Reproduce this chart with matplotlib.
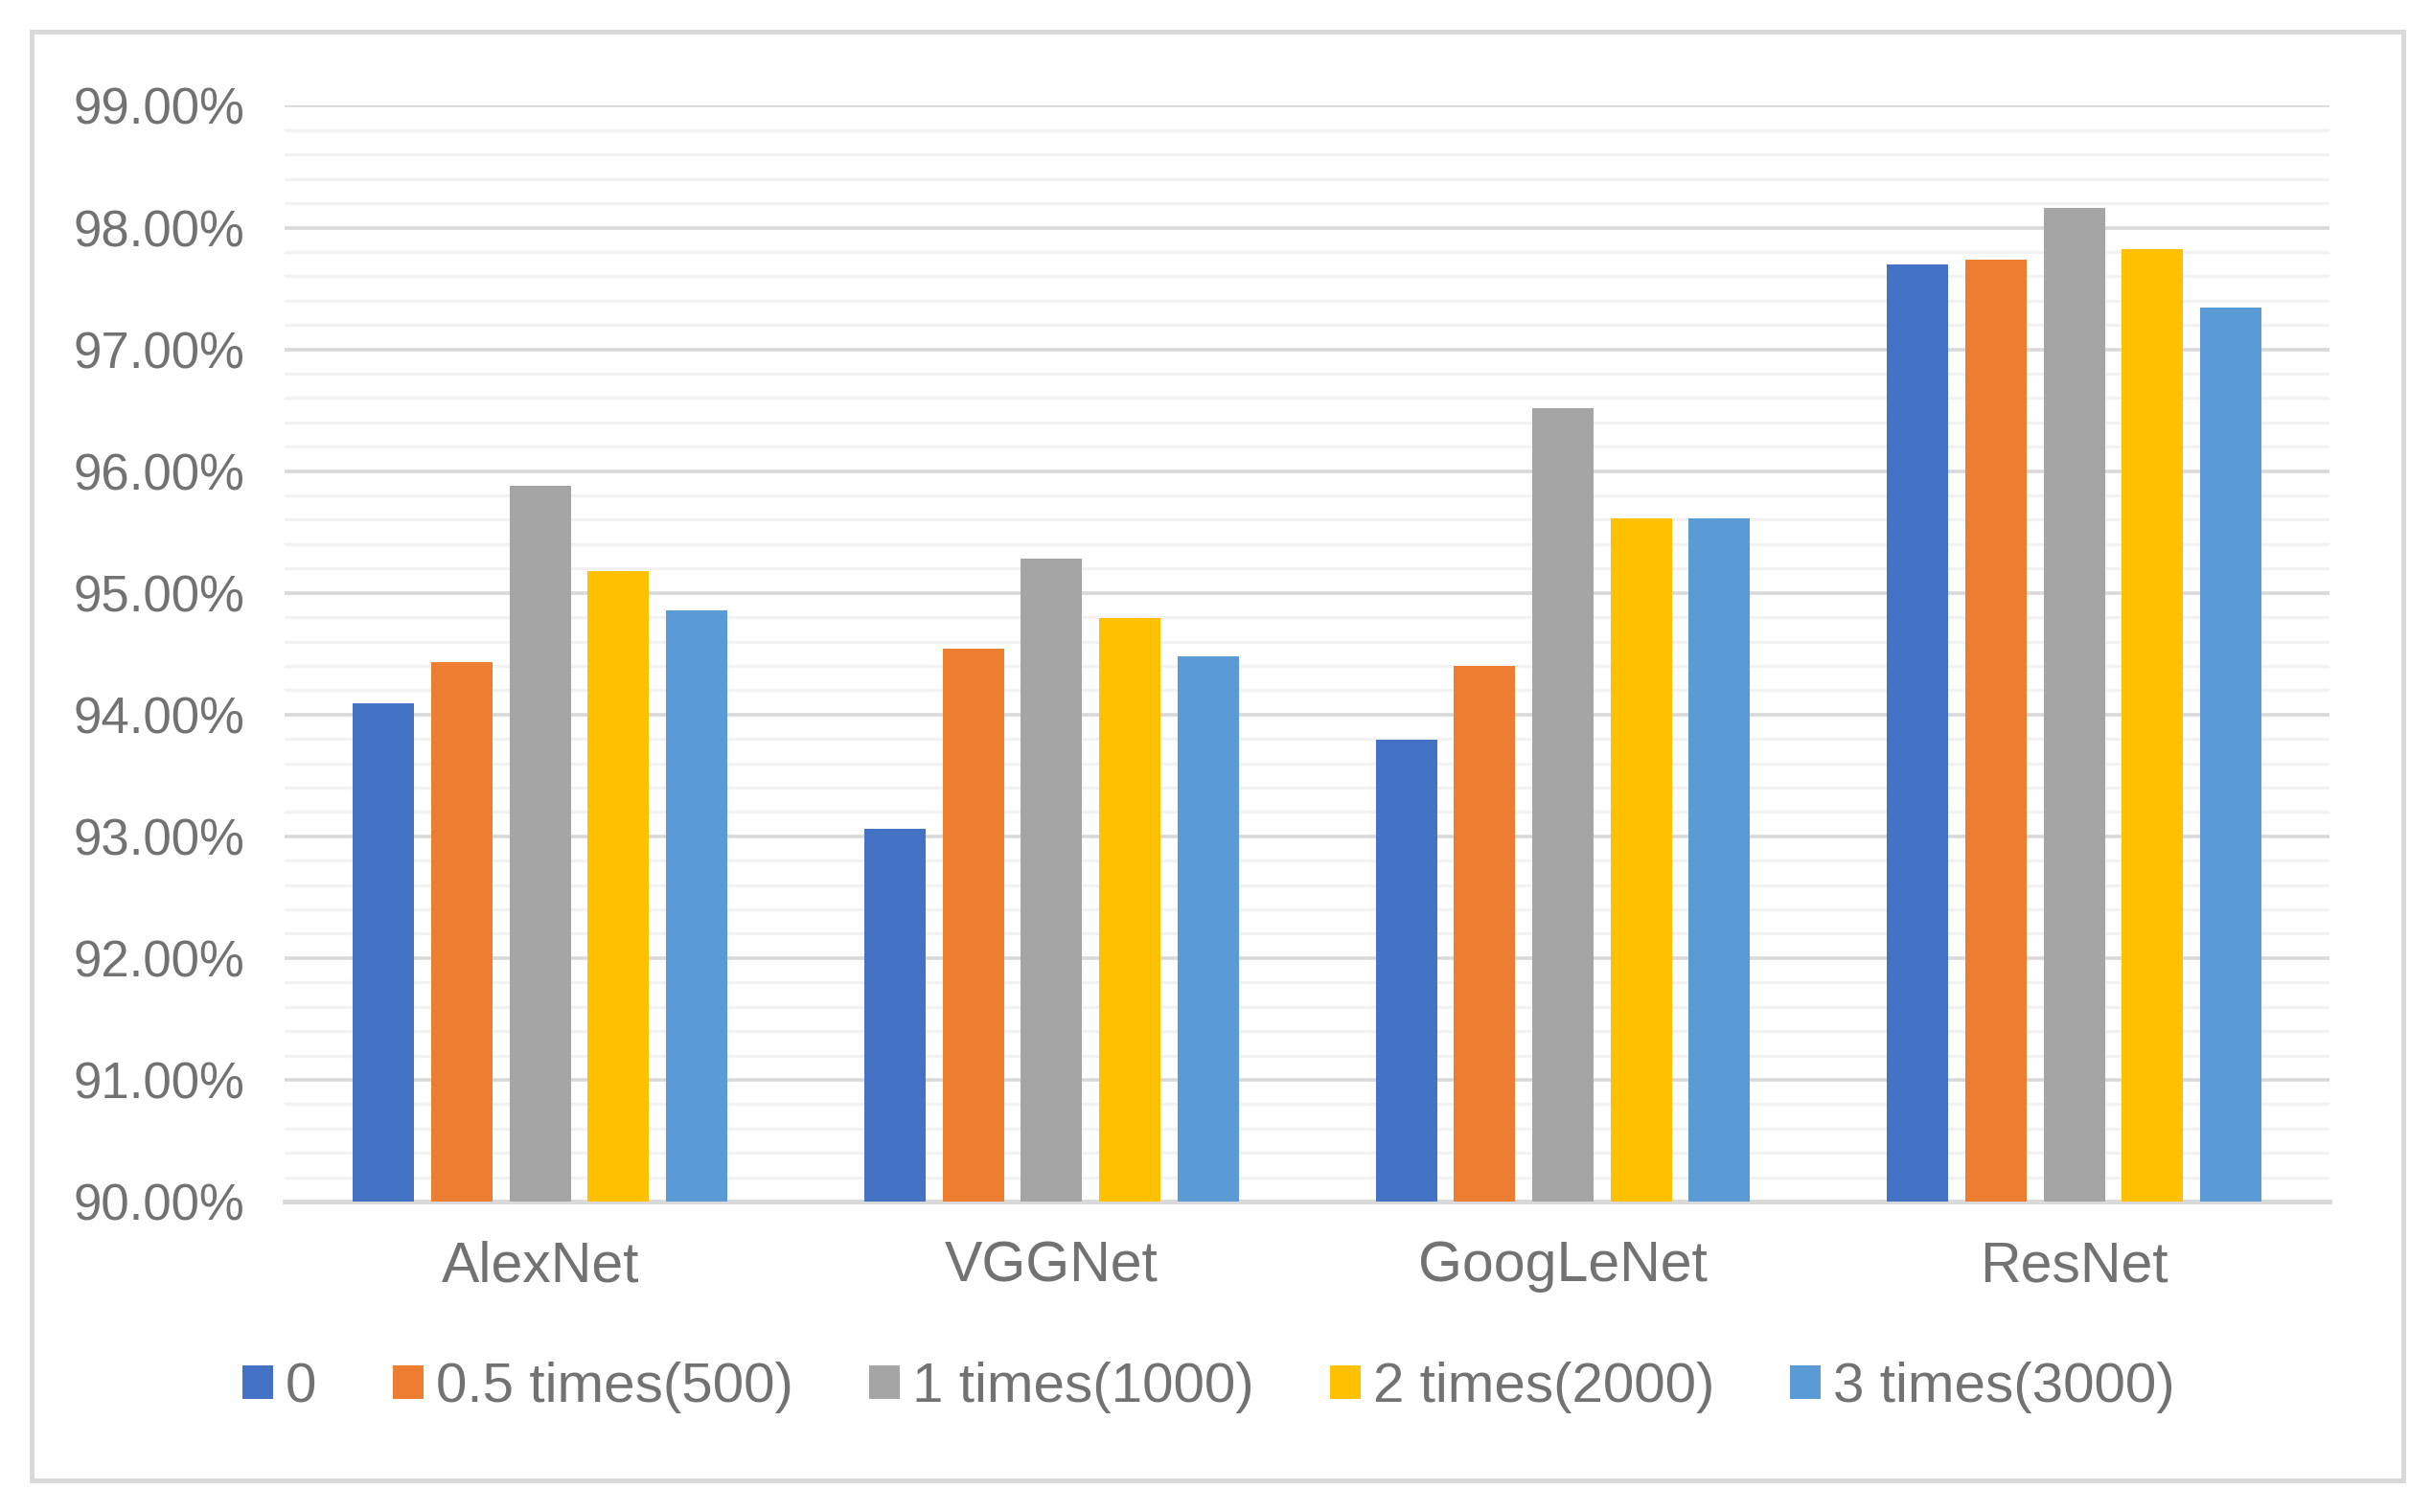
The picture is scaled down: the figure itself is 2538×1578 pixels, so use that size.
import matplotlib
matplotlib.use("Agg")
import matplotlib.pyplot as plt
from matplotlib import font_manager
from matplotlib.patches import Rectangle
from matplotlib.ticker import MultipleLocator, FuncFormatter
import numpy as np

# data
models = ["AlexNet", "VGGNet", "GoogLeNet", "ResNet"]
series = ["0", "0.5 times(500)", "1 times(1000)", "2 times(2000)", "3 times(3000)"]
acc_0 = [94.09, 93.06, 93.79, 97.70]
acc_05 = [94.43, 94.54, 94.40, 97.74]
acc_1 = [95.88, 95.28, 96.52, 98.16]
acc_2 = [95.18, 94.79, 95.61, 97.82]
acc_3 = [94.86, 94.48, 95.61, 97.34]
colors = ["#4472C4", "#ED7D31", "#A5A5A5", "#FFC000", "#5B9BD5"]

# narrow font if it is there, plain Liberation otherwise
names = {f.name for f in font_manager.fontManager.ttflist}
font = "Liberation Sans Narrow" if "Liberation Sans Narrow" in names else "Liberation Sans"
plt.rcParams["font.family"] = [font, "DejaVu Sans"]
txt_col = "#727272"

fig = plt.figure(figsize=(25.38, 15.78), dpi=100)
ax = fig.add_axes([0.117, 0.2053, 0.841, 0.7247])

# outer chart border
fig.patches.append(Rectangle((33 / 2538, 1 - 1545 / 1578), (2508 - 33) / 2538, (1545 - 33) / 1578,
                             transform=fig.transFigure, fill=False,
                             edgecolor="#D9D9D9", linewidth=3.5))

x = np.arange(len(models))
pitch = 0.153
all_vals = [acc_0, acc_05, acc_1, acc_2, acc_3]
for i, (vals, c, lab) in enumerate(zip(all_vals, colors, series)):
    ax.bar(x + (i - 2) * pitch, vals, width=0.12, color=c, label=lab, zorder=3)

ax.set_xlim(-0.5, 3.5)
ax.set_ylim(90, 99)
ax.yaxis.set_major_locator(MultipleLocator(1))
ax.yaxis.set_minor_locator(MultipleLocator(0.2))
ax.yaxis.set_major_formatter(FuncFormatter(lambda v, p: f"{v:.2f}%"))
ax.grid(True, which="major", axis="y", color="#D9D9D9", linewidth=2.6, zorder=1)
ax.grid(True, which="minor", axis="y", color="#F2F2F2", linewidth=2.4, zorder=0)
ax.set_axisbelow(True)

for s in ["top", "right", "left"]:
    ax.spines[s].set_visible(False)
ax.spines["bottom"].set_color("#D9D9D9")
ax.spines["bottom"].set_linewidth(3.5)
ax.spines["bottom"].set_zorder(2)

ax.set_xticks(x)
ax.set_xticklabels(models)
ax.tick_params(axis="x", length=0, pad=29, labelsize=42.5, labelcolor=txt_col)
ax.tick_params(axis="y", which="both", length=0, pad=30, labelsize=38, labelcolor=txt_col)

leg = fig.legend(loc="center", bbox_to_anchor=(0.497, 1 - 1448 / 1578), ncol=5,
                 frameon=False, fontsize=42, handlelength=0.55, handleheight=0.55,
                 handletextpad=0.22, columnspacing=1.36)
for t in leg.get_texts():
    t.set_color(txt_col)

plt.savefig("out.png", dpi=100)
